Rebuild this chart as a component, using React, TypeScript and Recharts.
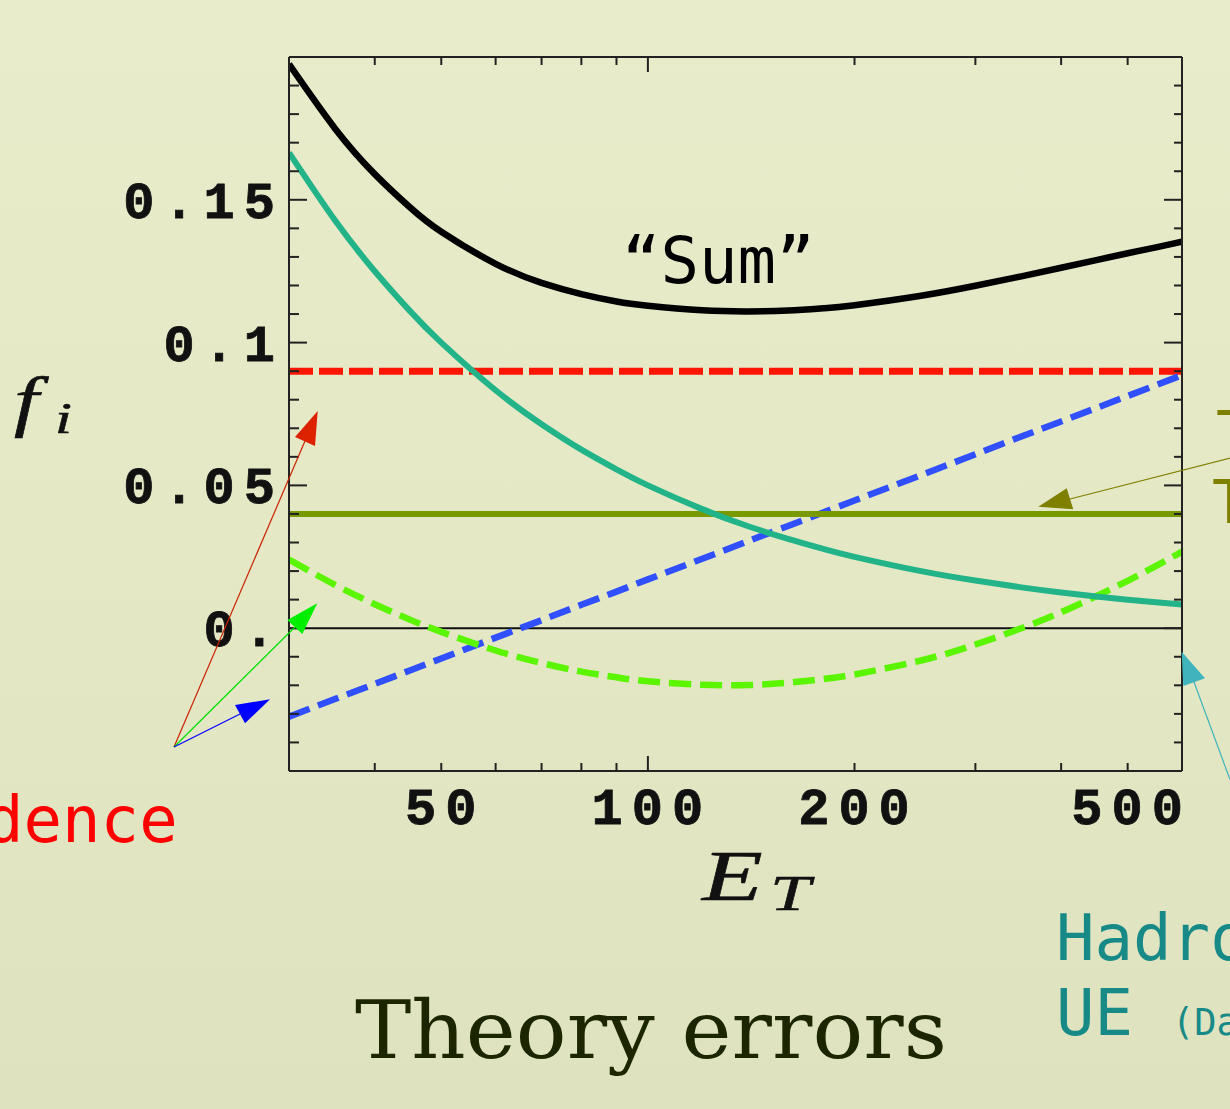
import React from 'react';
import { LineChart, Line, XAxis, YAxis, ReferenceLine } from 'recharts';

// Transverse energy E_T (log axis)
const energies = [30, 35, 40, 45, 50, 60, 70, 80, 90, 100, 120, 140, 160, 180, 200, 250, 300, 350, 400, 450, 500, 550, 600];
// "Sum" (black)
const sumValues = [0.1975, 0.175, 0.159, 0.1474, 0.1388, 0.1276, 0.1209, 0.117, 0.1144, 0.1129, 0.1113, 0.1109, 0.1112, 0.112, 0.1131, 0.1164, 0.1199, 0.1232, 0.1262, 0.1289, 0.1313, 0.13335, 0.1353];
// Hadronization / UE (teal)
const hadroValues = [0.1665, 0.1428, 0.125, 0.1111, 0.1, 0.0833, 0.0714, 0.0625, 0.0556, 0.05, 0.0417, 0.0357, 0.0313, 0.0278, 0.025, 0.02, 0.0167, 0.0143, 0.0125, 0.0111, 0.01, 0.0091, 0.0083];
// red dashed
const redValues = [0.09, 0.09, 0.09, 0.09, 0.09, 0.09, 0.09, 0.09, 0.09, 0.09, 0.09, 0.09, 0.09, 0.09, 0.09, 0.09, 0.09, 0.09, 0.09, 0.09, 0.09, 0.09, 0.09];
// blue dashed
const blueValues = [-0.031, -0.0248, -0.0195, -0.0148, -0.0106, -0.0033, 0.0028, 0.0082, 0.0128, 0.0171, 0.0243, 0.0305, 0.0358, 0.0405, 0.0447, 0.0536, 0.0609, 0.0671, 0.0724, 0.0771, 0.0813, 0.0851, 0.0886];
// green dashed
const greenValues = [0.024, 0.0152, 0.0084, 0.003, -0.0013, -0.0078, -0.0122, -0.0152, -0.0172, -0.0186, -0.0198, -0.0199, -0.0191, -0.0178, -0.0162, -0.0113, -0.0057, 0.0, 0.0056, 0.0112, 0.0166, 0.0218, 0.0268];
// olive solid
const oliveValues = [0.04, 0.04, 0.04, 0.04, 0.04, 0.04, 0.04, 0.04, 0.04, 0.04, 0.04, 0.04, 0.04, 0.04, 0.04, 0.04, 0.04, 0.04, 0.04, 0.04, 0.04, 0.04, 0.04];

const xTicks = [40, 50, 60, 70, 80, 90, 100, 200, 300, 400, 500];
const xMajorTicks = [100];
const xTickLabels: Record<number, string> = { 50: '50', 100: '100', 200: '200', 500: '500' };
const yTicks = [-0.04, -0.03, -0.02, -0.01, 0, 0.01, 0.02, 0.03, 0.04, 0.05, 0.06, 0.07, 0.08, 0.09, 0.1, 0.11, 0.12, 0.13, 0.14, 0.15, 0.16, 0.17, 0.18, 0.19];
const yTickLabels: Record<number, string> = { 0: '0.', 5: '0.05', 10: '0.1', 15: '0.15' };

const data = energies.map((e, i) => ({
  E: e,
  sum: sumValues[i],
  hadro: hadroValues[i],
  red: redValues[i],
  blue: blueValues[i],
  green: greenValues[i],
  olive: oliveValues[i],
}));

const FRAME = '#222';
const tickFont = {
  fontFamily: '"Liberation Mono", "DejaVu Sans Mono", monospace',
  fontWeight: 700 as const,
  fontSize: 52,
  letterSpacing: 9,
  fill: '#111',
  stroke: '#111',
  strokeWidth: 0.8,
};

const LeftTick = (props: any) => {
  const { x, y, payload } = props;
  const k = Math.round(payload.value * 100);
  const major = k % 5 === 0;
  const len = major ? 18 : 10;
  const label = yTickLabels[k];
  return (
    <g>
      <line x1={x} x2={x + len} y1={y} y2={y} stroke={FRAME} strokeWidth={2} />
      {label !== undefined && (
        <text x={x - 5} y={y + 18} textAnchor="end" {...tickFont}>
          {label}
        </text>
      )}
    </g>
  );
};

const RightTick = (props: any) => {
  const { x, y, payload } = props;
  const k = Math.round(payload.value * 100);
  const len = k % 5 === 0 ? 18 : 8;
  return <line x1={x} x2={x - len} y1={y} y2={y} stroke={FRAME} strokeWidth={2} />;
};

const BottomTick = (props: any) => {
  const { x, y, payload } = props;
  const v = payload.value;
  const len = xMajorTicks.includes(v) ? 15 : 8;
  const label = xTickLabels[v];
  return (
    <g>
      <line x1={x} x2={x} y1={y} y2={y - len} stroke={FRAME} strokeWidth={2} />
      {label !== undefined && (
        <text x={x + 4} y={y + 53} textAnchor="middle" {...tickFont}>
          {label}
        </text>
      )}
    </g>
  );
};

const TopTick = (props: any) => {
  const { x, y, payload } = props;
  const len = xMajorTicks.includes(payload.value) ? 15 : 8;
  return <line x1={x} x2={x} y1={y} y2={y + len} stroke={FRAME} strokeWidth={2} />;
};

const mono = '"DejaVu Sans Mono", "Liberation Mono", monospace';
const times = '"Liberation Serif", serif';

export default function App() {
  return (
    <div
      style={{
        position: 'absolute',
        left: 0,
        top: 0,
        width: 1230,
        height: 1109,
        overflow: 'hidden',
        background: 'linear-gradient(180deg, #e9ecca 0%, #e4e8c5 50%, #dee2bf 100%)',
      }}
    >
      <LineChart
        width={1230}
        height={1109}
        data={data}
        margin={{ top: 17, right: 8, bottom: 298, left: 249 }}
      >
        <XAxis
          xAxisId="b"
          dataKey="E"
          type="number"
          scale="log"
          domain={[30, 600]}
          allowDataOverflow
          ticks={xTicks}
          interval={0}
          orientation="bottom"
          height={40}
          tickSize={0}
          tickMargin={0}
          tickLine={false}
          axisLine={{ stroke: FRAME, strokeWidth: 2 }}
          tick={<BottomTick />}
        />
        <XAxis
          xAxisId="t"
          dataKey="E"
          type="number"
          scale="log"
          domain={[30, 600]}
          allowDataOverflow
          ticks={xTicks}
          interval={0}
          orientation="top"
          height={40}
          tickSize={0}
          tickMargin={0}
          tickLine={false}
          axisLine={{ stroke: FRAME, strokeWidth: 2 }}
          tick={<TopTick />}
        />
        <YAxis
          yAxisId="l"
          type="number"
          domain={[-0.05, 0.2]}
          allowDataOverflow
          ticks={yTicks}
          interval={0}
          width={40}
          tickSize={0}
          tickMargin={0}
          tickLine={false}
          axisLine={{ stroke: FRAME, strokeWidth: 2 }}
          tick={<LeftTick />}
        />
        <YAxis
          yAxisId="r"
          orientation="right"
          type="number"
          domain={[-0.05, 0.2]}
          allowDataOverflow
          ticks={yTicks}
          interval={0}
          width={40}
          tickSize={0}
          tickMargin={0}
          tickLine={false}
          axisLine={{ stroke: FRAME, strokeWidth: 2 }}
          tick={<RightTick />}
        />
        <ReferenceLine xAxisId="b" yAxisId="l" y={0} stroke="#111" strokeWidth={2} />
        <Line xAxisId="b" yAxisId="l" dataKey="red" type="linear" stroke="#ff1500" strokeWidth={7} strokeDasharray="24 6" dot={false} isAnimationActive={false} />
        <Line xAxisId="b" yAxisId="l" dataKey="blue" type="linear" stroke="#3050ff" strokeWidth={6.5} strokeDasharray="22 9" dot={false} isAnimationActive={false} />
        <Line xAxisId="b" yAxisId="l" dataKey="olive" type="linear" stroke="#789a00" strokeWidth={6} dot={false} isAnimationActive={false} />
        <Line xAxisId="b" yAxisId="l" dataKey="green" type="natural" stroke="#5cf500" strokeWidth={6.5} strokeDasharray="22 9" dot={false} isAnimationActive={false} />
        <Line xAxisId="b" yAxisId="l" dataKey="hadro" type="natural" stroke="#22b488" strokeWidth={6} dot={false} isAnimationActive={false} />
        <Line xAxisId="b" yAxisId="l" dataKey="sum" type="natural" stroke="#000" strokeWidth={6.5} dot={false} isAnimationActive={false} />
      </LineChart>

      <svg
        width={1230}
        height={1109}
        style={{ position: 'absolute', left: 0, top: 0, pointerEvents: 'none' }}
      >
        {/* arrows from the left label */}
        <line x1={174} y1={747} x2={305} y2={441} stroke="#cc2200" strokeWidth={1.2} />
        <polygon points="317.7,411 295,437 315,446" fill="#dd2200" />
        <line x1={174} y1={747} x2={295} y2={627} stroke="#00e000" strokeWidth={1.2} />
        <polygon points="317.3,603.3 287.3,620 302.3,634" fill="#00ee00" />
        <line x1={174} y1={747} x2={240} y2={714} stroke="#0000ff" strokeWidth={1.2} />
        <polygon points="270,699.3 235,705 245,723.3" fill="#0000ff" />
        {/* olive arrow */}
        <line x1={1232} y1={457.5} x2={1070} y2={499} stroke="#808000" strokeWidth={1.2} />
        <polygon points="1038.3,506.7 1066.7,488.3 1073.3,509.3" fill="#808000" />
        {/* teal arrow */}
        <line x1={1194} y1={682} x2={1232} y2={785} stroke="#40b4bc" strokeWidth={1.2} />
        <polygon points="1181.7,651.7 1183.3,686 1205,678.3" fill="#40b4bc" />

        <text x={622} y={283} fontFamily={mono} fontSize={64} fill="#000">
          “Sum”
        </text>
        <text x={-15} y={842} fontFamily={mono} fontSize={64} fill="#ff0000">
          dence
        </text>
        <text x={1056} y={960} fontFamily={mono} fontSize={64} fill="#178a88">
          Hadro
        </text>
        <text x={1056} y={1035} fontFamily={mono} fontSize={64} fill="#178a88">
          UE
        </text>
        <text x={1172} y={1035} fontFamily={mono} fontSize={37} fill="#178a88">
          (Da
        </text>
        <text x={1216} y={454} fontFamily={mono} fontSize={60} fill="#808000">
          T
        </text>
        <text x={1212} y={523} fontFamily={mono} fontSize={60} fill="#808000">
          T
        </text>

        <g transform="translate(14,424) scale(1.3,1)">
          <text x={0} y={0} fontFamily={times} fontStyle="italic" fontSize={68} fill="#111" stroke="#111" strokeWidth={0.6}>
            f
          </text>
        </g>
        <g transform="translate(55,433) scale(1.35,1)">
          <text x={0} y={0} fontFamily={times} fontStyle="italic" fontSize={45} fill="#111" stroke="#111" strokeWidth={0.6}>
            i
          </text>
        </g>
        <g transform="translate(702,900) scale(1.4,1)">
          <text x={0} y={0} fontFamily={times} fontStyle="italic" fontSize={71} fill="#111" stroke="#111" strokeWidth={0.6}>
            E
          </text>
        </g>
        <g transform="translate(770,910) scale(1.45,1)">
          <text x={0} y={0} fontFamily={times} fontStyle="italic" fontSize={50} fill="#111" stroke="#111" strokeWidth={0.5}>
            T
          </text>
        </g>

        <text
          x={355}
          y={1058}
          fontFamily='"DejaVu Serif", serif'
          fontSize={80}
          fill="#1b2500"
          textLength={592}
          lengthAdjust="spacingAndGlyphs"
        >
          Theory errors
        </text>
      </svg>
    </div>
  );
}
